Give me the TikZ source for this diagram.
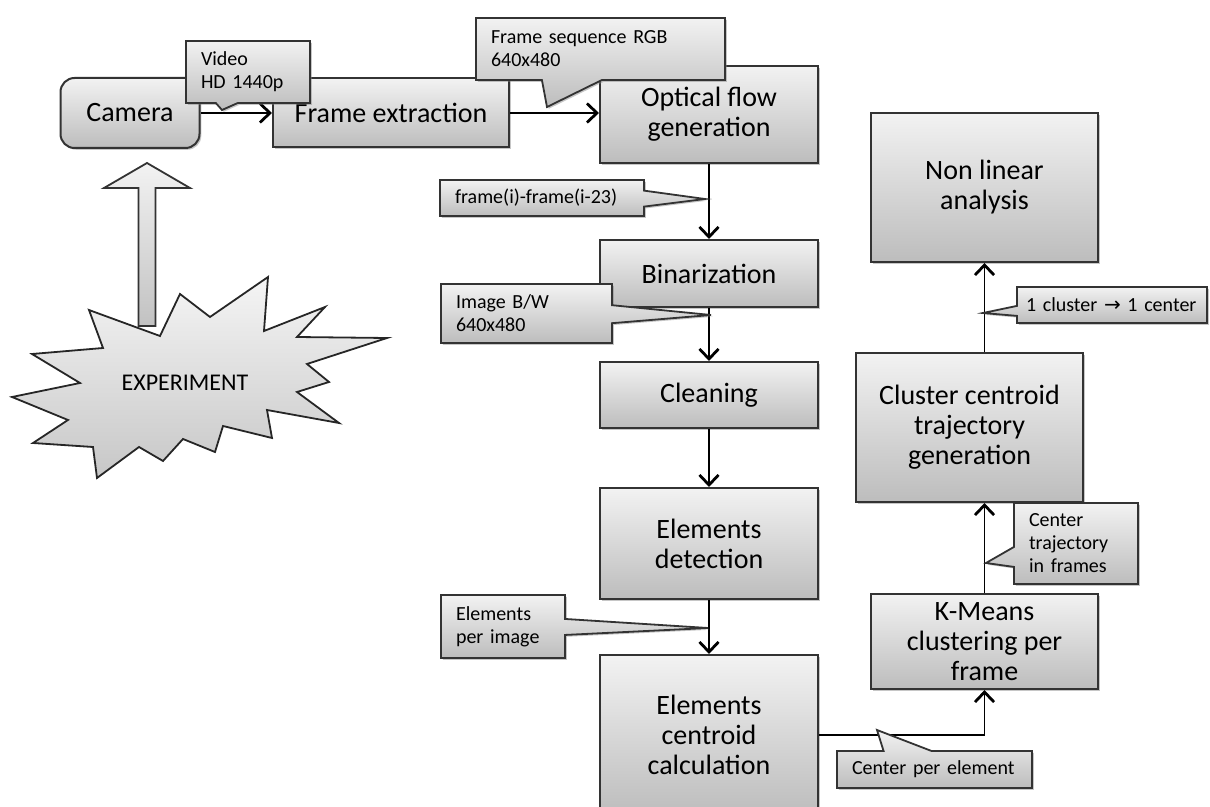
\documentclass[tikz,border=0pt]{standalone}
\usepackage{fontspec}
\setmainfont{Carlito}
\newfontfamily\symfont{DejaVu Sans}
\usetikzlibrary{shapes.callouts,shadows,arrows.meta}

\begin{document}
\begin{tikzpicture}[x=0.5pt,y=-0.5pt,
	stage/.style={draw=black!80,line width=1pt,top color=black!5,bottom color=black!26,
		drop shadow={shadow xshift=0.9pt,shadow yshift=-0.9pt,opacity=0.45},
		align=center,inner sep=2pt,font=\fontsize{14}{15}\selectfont},
	note/.style={rectangle callout,draw=black!80,line width=0.9pt,top color=black!5,bottom color=black!26,
		drop shadow={shadow xshift=0.9pt,shadow yshift=-0.9pt,opacity=0.45},
		align=left,inner xsep=7.5pt,inner ysep=2pt,font=\fontsize{10}{11.5}\selectfont},
	flow/.style={line width=0.9pt,-{Straight Barb[length=5pt,width=9.5pt,line width=1.4pt]}}]
	\useasboundingbox (0,0) rectangle (1210,807);
	\clip (0,0) rectangle (1210,807);
	% processing chain
	\node[stage,rounded corners=7pt,minimum width=69.5pt,minimum height=35pt] (cam) at (130,113) {Camera};
	\node[stage,minimum width=118pt,minimum height=34.5pt] (fe) at (391,113) {Frame extraction};
	\node[stage,minimum width=109pt,minimum height=48.5pt] (of) at (709,114.5) {Optical flow\\generation};
	\node[stage,minimum width=109pt,minimum height=33.5pt] (bin) at (709,273.5) {Binarization};
	\node[stage,minimum width=109pt,minimum height=33pt] (cln) at (709,395) {Cleaning};
	\node[stage,minimum width=109pt,minimum height=55.5pt] (ed) at (709,543.5) {Elements\\detection};
	\node[stage,minimum width=109pt,minimum height=80pt] (ecc) at (709,735) {Elements\\centroid\\calculation};
	\node[stage,minimum width=113.5pt,minimum height=74.5pt] (nl) at (984.5,187.5) {Non linear\\analysis};
	\node[stage,minimum width=113.5pt,minimum height=74.5pt] (cl) at (969.5,427.5) {Cluster centroid\\trajectory\\generation};
	\node[stage,minimum width=113.5pt,minimum height=47.5pt] (km) at (984.5,641.5) {K-Means\\clustering per\\frame};

	\draw[flow] (cam) -- (fe);
	\draw[flow] (fe) -- (fe.east -| of.west);
	\draw[flow] (of) -- (bin);
	\draw[flow] (bin) -- (cln);
	\draw[flow] (cln) -- (ed);
	\draw[flow] (ed) -- (ecc);
	\draw[flow] (ecc.east) -| (km.south);
	\draw[flow] (km.north) -- (km.north |- cl.south);
	\draw[flow] (cl.north -| nl.south) -- (nl.south);

	% data notes
	\node[note,text width=47pt,minimum height=31pt,callout absolute pointer={(222,110)},callout pointer width=11pt] (vid) at (248,72) {Video\\HD 1440p};
	\node[note,text width=109.5pt,minimum height=31pt,callout absolute pointer={(547,107)},callout pointer width=30pt] (fseq) at (600.5,49) {Frame sequence RGB\\640x480};
	\node[note,text width=87pt,minimum height=18pt,callout absolute pointer={(705,199)},callout pointer width=8pt] (fdiff) at (542,198) {frame(i)-frame(i-23)};
	\node[note,text width=70.5pt,minimum height=29.5pt,callout absolute pointer={(711,315)},callout pointer width=9pt] (bw) at (526.5,313.5) {Image B/W\\640x480};
	\node[note,text width=47pt,minimum height=31.5pt,callout absolute pointer={(708,628)},callout pointer width=8pt] (epi) at (503,626.5) {Elements\\per image};
	\node[note,text width=82.5pt,minimum height=18.5pt,callout absolute pointer={(877,730)},callout pointer width=24pt] (cpe) at (934.5,769.5) {Center per element};
	\node[note,text width=47pt,minimum height=40.5pt,callout absolute pointer={(986,563)},callout pointer width=10pt] (ctf) at (1076,543.5) {Center\\trajectory\\in frames};
	\node[note,text width=86pt,inner xsep=4.5pt,minimum height=18pt,callout absolute pointer={(983,313)},callout pointer width=5pt] (ccc) at (1112,305) {1 cluster {\symfont →} 1 center};

	% experiment feeding the camera
	\draw[line width=0.9pt,draw=black!80,top color=black!5,bottom color=black!24]
		(138.5,326) -- (138.5,188) -- (104,188) -- (147,163) -- (190,188) -- (155.5,188) -- (155.5,326) -- cycle;
	\draw[line width=0.9pt,draw=black!85,top color=black!4,bottom color=black!22]
		(89,310) -- (160,336) -- (180,294) -- (210,317) -- (268,277) -- (264,331) -- (325,307) -- (297,337)
		-- (387,338) -- (307,364) -- (329,382) -- (297,392) -- (339,423) -- (267,410) -- (272,438) -- (223,426)
		-- (215,452) -- (183,439) -- (163,461) -- (139,447) -- (97,478) -- (93,447) -- (33,443) -- (68,420)
		-- (12,397) -- (80,383) -- (32,354) -- (103,348) -- cycle;
	\node[font=\fontsize{12}{14}\selectfont] (exp) at (185,383) {EXPERIMENT};
\end{tikzpicture}
\end{document}
